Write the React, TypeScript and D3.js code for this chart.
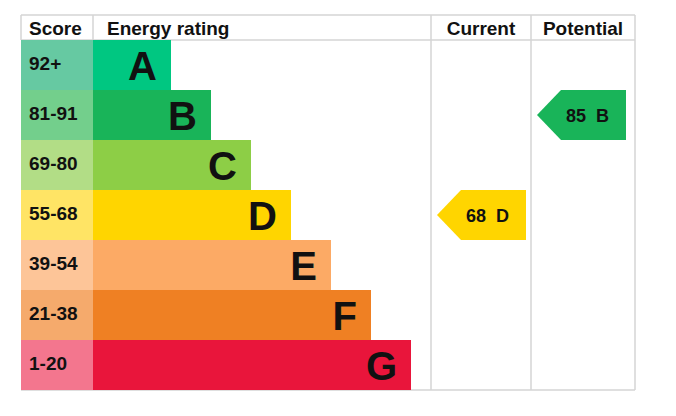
import { useRef, useEffect } from "react";
import * as d3 from "d3";

// bands of the energy rating, best first
const bands = ["A", "B", "C", "D", "E", "F", "G"];
const scoreRanges = ["92+", "81-91", "69-80", "55-68", "39-54", "21-38", "1-20"];
const bandMin = [92, 81, 69, 55, 39, 21, 1];
const bandColors = ["#00c781", "#19b459", "#8dce46", "#ffd500", "#fcaa65", "#ef8023", "#e9153b"];
const scoreColors = ["#66c9a2", "#73cf8c", "#b2dd86", "#ffe465", "#fdc598", "#f5aa6c", "#f3768e"];

const currentScore = 68;
const potentialScore = 85;

const headers = ["Score", "Energy rating", "Current", "Potential"];

const WIDTH = 676;
const HEIGHT = 416;
const FONT = "'Liberation Sans', Arial, sans-serif";

const bandOf = (score: number) => bands[bandMin.findIndex((m) => score >= m)];

const App = () => {
  const svgRef = useRef(null);

  useEffect(() => {
    const svg = d3.select(svgRef.current);
    svg.selectAll("*").remove();

    // column edges: score | energy rating | current | potential
    const cols = [21, 93, 431, 531, 635];
    const top = 15;
    const headerBottom = 40;
    const bottom = 390;
    const grid = "#d4d4d4";

    const y = d3.scaleBand().domain(bands).range([headerBottom, bottom]);
    const barLen = d3.scaleLinear().domain([0, bands.length - 1]).range([78, 318]);

    // grid lines
    const g = svg.append("g");
    g.append("line").attr("x1", cols[0]).attr("x2", cols[4]).attr("y1", top).attr("y2", top);
    g.append("line").attr("x1", cols[0]).attr("x2", cols[4]).attr("y1", headerBottom).attr("y2", headerBottom);
    g.append("line").attr("x1", cols[0]).attr("x2", cols[4]).attr("y1", bottom).attr("y2", bottom);
    cols.forEach((c, i) => {
      g.append("line")
        .attr("x1", c)
        .attr("x2", c)
        .attr("y1", top)
        .attr("y2", i >= 2 ? bottom : headerBottom);
    });
    g.selectAll("line").attr("stroke", grid).attr("stroke-width", 1.5);

    // header labels
    svg
      .selectAll(".hdr")
      .data(headers)
      .join("text")
      .attr("class", "hdr")
      .attr("x", (d, i) => (i < 2 ? cols[i] + (i === 0 ? 8 : 14) : (cols[i] + cols[i + 1]) / 2))
      .attr("y", 35)
      .attr("text-anchor", (d, i) => (i < 2 ? "start" : "middle"))
      .attr("font-family", FONT)
      .attr("font-weight", "bold")
      .attr("font-size", 19)
      .attr("fill", "#111")
      .text((d) => d);

    const rows = svg
      .selectAll(".row")
      .data(bands)
      .join("g")
      .attr("class", "row")
      .attr("transform", (d) => `translate(0,${y(d)})`);

    rows
      .append("rect")
      .attr("x", cols[0])
      .attr("width", cols[1] - cols[0])
      .attr("height", y.bandwidth())
      .attr("fill", (d, i) => scoreColors[i]);

    rows
      .append("text")
      .attr("x", cols[0] + 8)
      .attr("y", 30)
      .attr("font-family", FONT)
      .attr("font-weight", "bold")
      .attr("font-size", 19)
      .attr("fill", "#111")
      .text((d, i) => scoreRanges[i]);

    rows
      .append("rect")
      .attr("x", cols[1])
      .attr("width", (d, i) => barLen(i))
      .attr("height", y.bandwidth())
      .attr("fill", (d, i) => bandColors[i]);

    rows
      .append("text")
      .attr("x", (d, i) => cols[1] + barLen(i) - 14)
      .attr("y", y.bandwidth() / 2 + 14.5)
      .attr("text-anchor", "end")
      .attr("font-family", FONT)
      .attr("font-weight", "bold")
      .attr("font-size", 40)
      .attr("fill", "#111")
      .text((d) => d);

    // current / potential arrows
    const arrows = [
      { score: currentScore, x0: cols[2] },
      { score: potentialScore, x0: cols[3] },
    ];
    arrows.forEach(({ score, x0 }) => {
      const band = bandOf(score);
      const i = bands.indexOf(band);
      const t = y(band);
      const h = y.bandwidth();
      const left = x0 + 6;
      const right = x0 + 95;
      const body = left + 24;
      svg
        .append("path")
        .attr(
          "d",
          `M${left},${t + h / 2}L${body},${t}L${right},${t}L${right},${t + h}L${body},${t + h}Z`
        )
        .attr("fill", bandColors[i]);
      svg
        .append("text")
        .attr("x", (left + right) / 2 + 6)
        .attr("y", t + h / 2 + 7)
        .attr("text-anchor", "middle")
        .attr("font-family", FONT)
        .attr("font-weight", "bold")
        .attr("font-size", 18)
        .attr("fill", "#111")
        .style("white-space", "pre")
        .text(`${score}  ${band}`);
    });
  }, []);

  return (
    <svg
      ref={svgRef}
      width={WIDTH}
      height={HEIGHT}
      style={{ position: "absolute", left: 0, top: 0, background: "#fff" }}
    ></svg>
  );
};

export default App;
